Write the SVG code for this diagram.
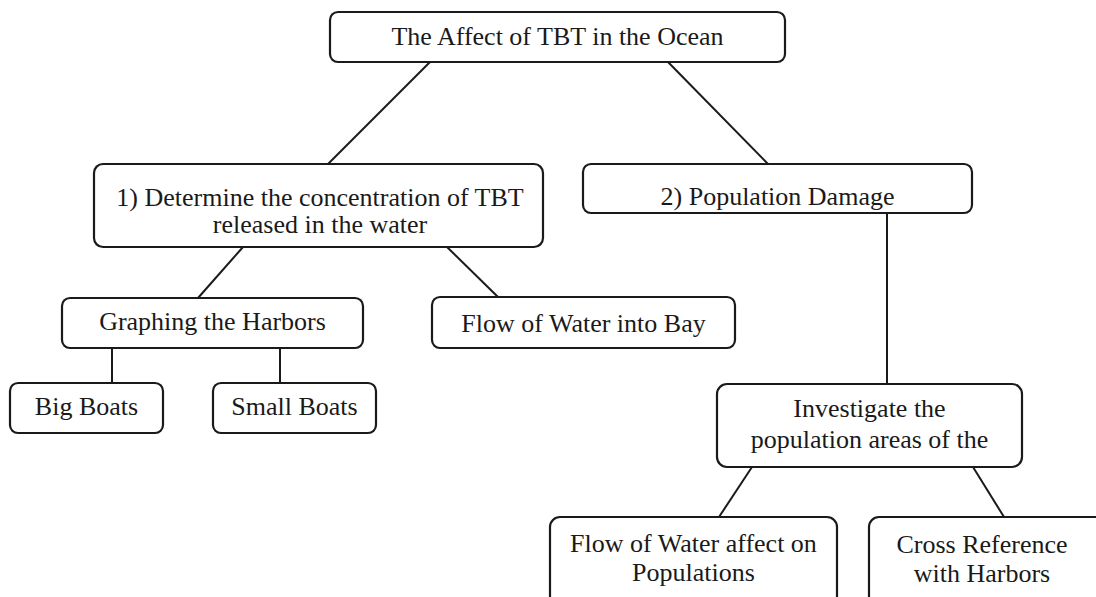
<svg xmlns="http://www.w3.org/2000/svg" width="1096" height="597" viewBox="0 0 1096 597">
<style>
.box{fill:#fff;stroke:#1a1a1a;stroke-width:2.2}
.t{font-family:"Liberation Serif","Times New Roman",serif;font-size:26px;fill:#1a1a1a;text-anchor:middle}
.c{stroke:#1a1a1a;stroke-width:2;fill:none}
</style>
<rect width="1096" height="597" fill="#fff"/>
<g id="connectors">
<line class="c" x1="430" y1="62" x2="328" y2="164"/>
<line class="c" x1="668" y1="62" x2="768" y2="164"/>
<line class="c" x1="243" y1="247" x2="198" y2="298"/>
<line class="c" x1="447" y1="247" x2="498" y2="297"/>
<line class="c" x1="112" y1="348" x2="112" y2="383"/>
<line class="c" x1="280" y1="348" x2="280" y2="383"/>
<line class="c" x1="887" y1="213" x2="887" y2="384"/>
<line class="c" x1="752" y1="467" x2="719" y2="517"/>
<line class="c" x1="973" y1="467" x2="1004" y2="517"/>
</g>
<g id="root">
<rect class="box" x="330" y="12" width="455" height="50" rx="8"/>
<text class="t" x="557.5" y="45">The Affect of TBT in the Ocean</text>
</g>
<g id="n1">
<rect class="box" x="94" y="164" width="449" height="83" rx="9"/>
<text class="t" x="320" y="206">1) Determine the concentration of TBT</text>
<text class="t" x="320" y="233">released in the water</text>
</g>
<g id="n2">
<rect class="box" x="583" y="164" width="389" height="49" rx="8"/>
<text class="t" x="777.5" y="205">2) Population Damage</text>
</g>
<g id="graphing">
<rect class="box" x="62" y="298" width="301" height="50" rx="8"/>
<text class="t" x="212.5" y="330">Graphing the Harbors</text>
</g>
<g id="flowbay">
<rect class="box" x="432" y="297" width="303" height="51" rx="8"/>
<text class="t" x="583.5" y="332">Flow of Water into Bay</text>
</g>
<g id="big">
<rect class="box" x="10" y="383" width="153" height="50" rx="8"/>
<text class="t" x="86.5" y="415">Big Boats</text>
</g>
<g id="small">
<rect class="box" x="213" y="383" width="163" height="50" rx="8"/>
<text class="t" x="294.5" y="415">Small Boats</text>
</g>
<g id="investigate">
<rect class="box" x="717" y="384" width="305" height="83" rx="10"/>
<text class="t" x="869.5" y="417">Investigate the</text>
<text class="t" x="869.5" y="448">population areas of the</text>
</g>
<g id="flowpop">
<rect class="box" x="550" y="517" width="287" height="100" rx="10"/>
<text class="t" x="693.5" y="552">Flow of Water affect on</text>
<text class="t" x="693.5" y="581">Populations</text>
</g>
<g id="crossref">
<rect class="box" x="869" y="517" width="240" height="100" rx="10"/>
<text class="t" x="982" y="553">Cross Reference</text>
<text class="t" x="982" y="582">with Harbors</text>
</g>
</svg>
